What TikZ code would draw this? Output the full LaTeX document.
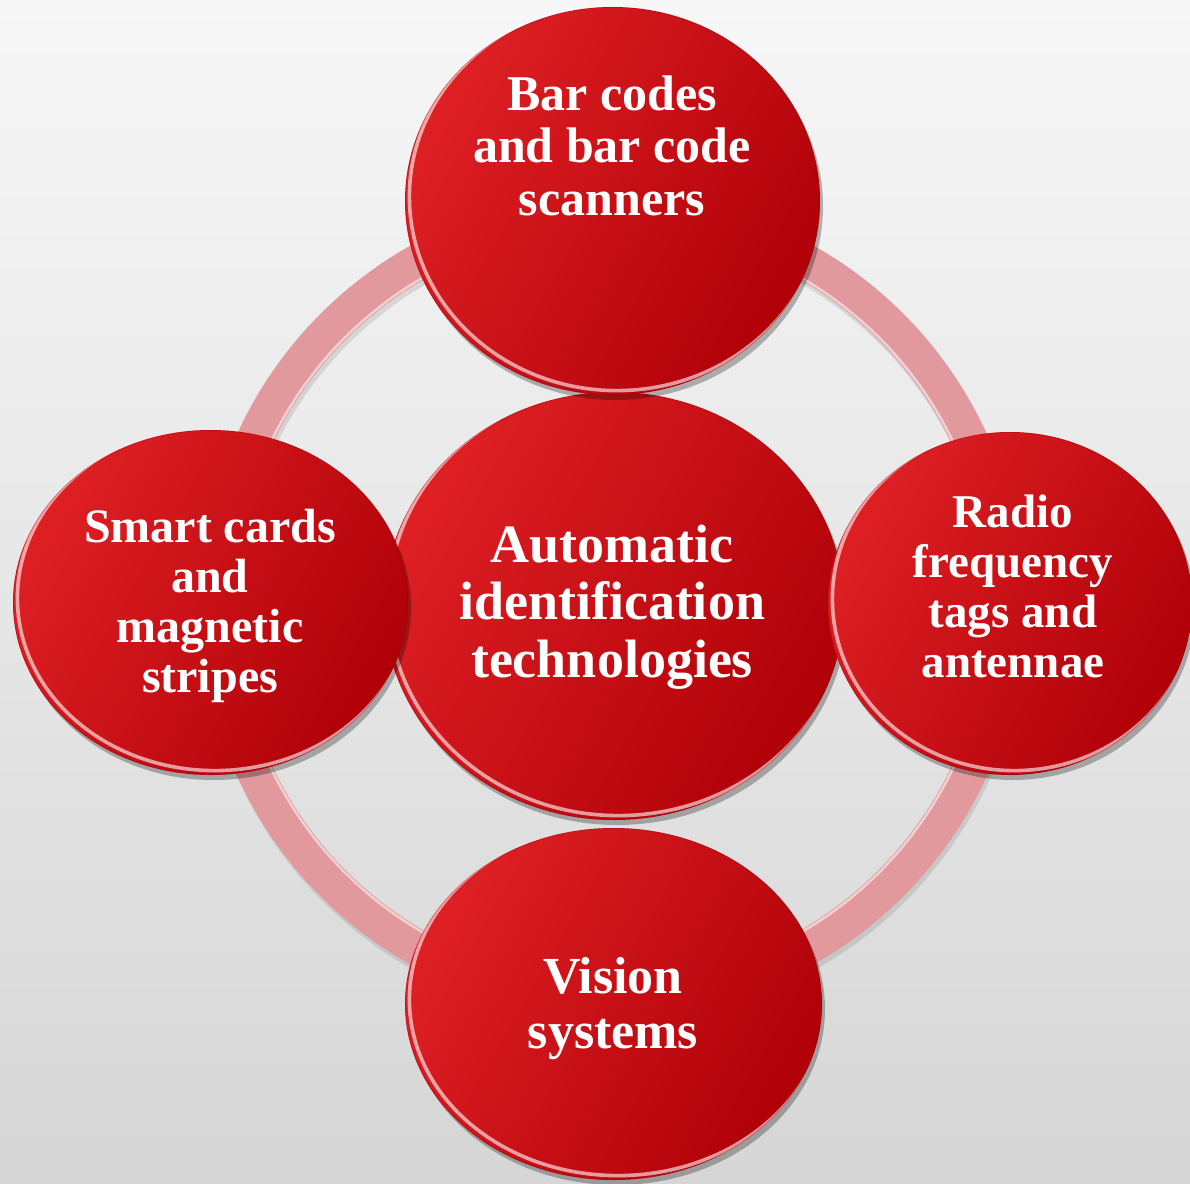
\documentclass[tikz,border=0pt]{standalone}
\usepackage{fontspec}
\setmainfont{Liberation Serif}
\usetikzlibrary{shapes.geometric,shadows}
\definecolor{redlight}{RGB}{222,32,36}
\definecolor{reddark}{RGB}{176,0,8}
\definecolor{ringpink}{RGB}{225,153,157}
\definecolor{bgtop}{RGB}{247,247,247}
\definecolor{bgbot}{RGB}{214,214,214}
\tikzset{
  disc/.style n args={2}{shape=ellipse, inner sep=0pt, outer sep=0pt,
    minimum width=#1pt, minimum height=#2pt,
    left color=redlight, right color=reddark, shading angle=60,
    drop shadow={shadow xshift=1.5pt, shadow yshift=-2.5pt, opacity=0.28, fill=black},
    path picture={
      \draw[white, opacity=0.6, line width=1.8pt]
        ([xshift=2.2pt,yshift=2.2pt]path picture bounding box.center)
        ellipse [x radius=0.5*#1pt, y radius=0.5*#2pt];
      \draw[reddark!80!black, opacity=0.3, line width=0.8pt]
        (path picture bounding box.center)
        ellipse [x radius=0.5*#1pt, y radius=0.5*#2pt];
    }},
  lbl/.style={text=white, align=center, inner sep=0pt},
}
\begin{document}
\begin{tikzpicture}[x=0.5pt,y=-0.5pt]
\useasboundingbox (0,0) rectangle (1190,1184);
\path[top color=bgtop, bottom color=bgbot] (0,0) rectangle (1190,1184);
\coordinate (ringc) at (612,605);
\draw[black, opacity=0.10, line width=18pt] ([shift={(2,5)}]ringc) circle [radius=394];
\draw[ringpink, line width=18pt] (ringc) circle [radius=394];
\draw[white, opacity=0.55, line width=1.2pt] (ringc) circle [radius=378];
\node[disc={230}{214}] (nCore) at (614,606) {};
\node[disc={207.5}{194}] (nTop) at (612.5,201) {};
\node[disc={197.5}{172.5}] (nLeft) at (210.5,602.5) {};
\node[disc={182}{171.5}] (nRight) at (1010,603.5) {};
\node[disc={208.5}{176}] (nBottom) at (613.5,1004) {};
\node[lbl, font=\fontsize{27pt}{28.75pt}\selectfont\bfseries] (tCore) at (612,608)
  {\strut Automatic\\\strut identification\\\strut technologies};
\node[lbl, font=\fontsize{25pt}{26.25pt}\selectfont\bfseries] (tTop) at (612,152)
  {\strut Bar codes\\\strut and bar code\\\strut scanners};
\node[lbl, font=\fontsize{24pt}{25pt}\selectfont\bfseries] (tLeft) at (210,607)
  {\strut Smart cards\\\strut and\\\strut magnetic\\\strut stripes};
\node[lbl, font=\fontsize{23.5pt}{25pt}\selectfont\bfseries] (tRight) at (1013,592)
  {\strut Radio\\\strut frequency\\\strut tags and\\\strut antennae};
\node[lbl, font=\fontsize{26pt}{27.5pt}\selectfont\bfseries] (tBottom) at (613,1009.5)
  {\strut Vision\\\strut systems};
\end{tikzpicture}
\end{document}
